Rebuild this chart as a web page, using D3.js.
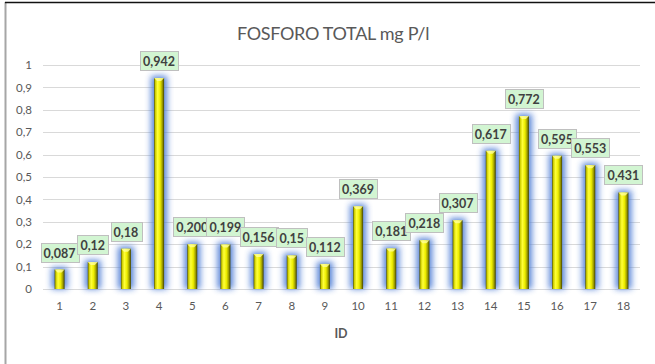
<!DOCTYPE html>
<html>
<head>
<meta charset="utf-8">
<script src="https://cdn.jsdelivr.net/npm/d3@7"></script>
<style>
  html, body { margin: 0; padding: 0; background: #fff; }
  svg { display: block; }
</style>
</head>
<body>
<svg id="chart" width="655" height="364"></svg>
<script>
// Total phosphorus per sampling point (mg P/l)
const ids = ["1","2","3","4","5","6","7","8","9","10","11","12","13","14","15","16","17","18"];
const values = [0.087, 0.12, 0.18, 0.942, 0.200, 0.199, 0.156, 0.15, 0.112, 0.369, 0.181, 0.218, 0.307, 0.617, 0.772, 0.595, 0.553, 0.431];
const valueLabels = ["0,087","0,12","0,18","0,942","0,200","0,199","0,156","0,15","0,112","0,369","0,181","0,218","0,307","0,617","0,772","0,595","0,553","0,431"];
const yTicks = [0, 0.1, 0.2, 0.3, 0.4, 0.5, 0.6, 0.7, 0.8, 0.9, 1];
const chartTitle = "FOSFORO TOTAL mg P/l";
const xTitle = "ID";

const W = 655, H = 364;
const margin = { top: 65, right: 15, bottom: 75, left: 43 };
const FONT = "Lato, 'Open Sans', sans-serif";

const svg = d3.select("#chart");
const defs = svg.append("defs");

// horizontal shading that gives each bar a rounded, bevelled look
const grad = defs.append("linearGradient").attr("id", "barGrad")
  .attr("x1", "0%").attr("x2", "100%").attr("y1", "0%").attr("y2", "0%");
[["0%", "#4f4f00"], ["14%", "#d0d000"], ["35%", "#ffff3a"], ["60%", "#eeee00"],
 ["82%", "#a0a000"], ["100%", "#404000"]].forEach(([o, c]) =>
  grad.append("stop").attr("offset", o).attr("stop-color", c));

// soft blue halo around the bars
const glow = defs.append("filter").attr("id", "glow")
  .attr("x", "-200%").attr("y", "-50%").attr("width", "500%").attr("height", "200%");
glow.append("feGaussianBlur").attr("stdDeviation", 3);

// chart frame
svg.append("line").attr("x1", 5.5).attr("x2", 5.5).attr("y1", 2).attr("y2", H)
  .attr("stroke", "#a6a6a6").attr("stroke-width", 2);
svg.append("line").attr("x1", 5).attr("x2", W).attr("y1", 2.5).attr("y2", 2.5)
  .attr("stroke", "#111").attr("stroke-width", 1.5);

const x = d3.scaleBand().domain(ids)
  .range([margin.left, W - margin.right]).paddingInner(0).paddingOuter(0);
const y = d3.scaleLinear().domain([0, 1]).range([H - margin.bottom, margin.top]);

// title
svg.append("text").attr("x", 333).attr("y", 40)
  .attr("text-anchor", "middle").attr("font-family", FONT)
  .attr("font-size", 18).attr("fill", "#595959").attr("letter-spacing", -0.3)
  .text(chartTitle);

// gridlines
svg.append("g").selectAll("line").data(yTicks).join("line")
  .attr("x1", margin.left).attr("x2", W - margin.right)
  .attr("y1", d => Math.round(y(d)) + 0.5).attr("y2", d => Math.round(y(d)) + 0.5)
  .attr("stroke", "#d9d9d9").attr("stroke-width", 1);

// y axis labels
const yAxis = d3.axisLeft(y).tickValues(yTicks).tickSize(0).tickPadding(0)
  .tickFormat(d => d3.format(".1~f")(d).replace(".", ","));
const gy = svg.append("g").attr("transform", `translate(${margin.left - 11},0)`).call(yAxis);
gy.select(".domain").remove();
gy.selectAll("text").attr("font-family", FONT).attr("font-size", 11.5).attr("fill", "#595959");

// x axis labels
const xAxis = d3.axisBottom(x).tickSize(0).tickPadding(0);
const gx = svg.append("g").attr("transform", `translate(0,${H - margin.bottom + 13})`).call(xAxis);
gx.select(".domain").remove();
gx.selectAll("text").attr("font-family", FONT).attr("font-size", 11.5).attr("fill", "#595959");

// x axis title
svg.append("text").attr("x", 341).attr("y", 338).attr("text-anchor", "middle")
  .attr("font-family", FONT).attr("font-weight", "bold").attr("font-size", 12.5)
  .attr("fill", "#595959").text(xTitle);

const barW = 10;
const data = ids.map((id, i) => ({ id, v: values[i], label: valueLabels[i] }));
const cx = d => x(d.id) + x.bandwidth() / 2;

// halos
svg.append("g").selectAll("rect").data(data).join("rect")
  .attr("x", d => cx(d) - barW / 2 - 3)
  .attr("y", d => y(d.v) - 2)
  .attr("width", barW + 6)
  .attr("height", d => y(0) - y(d.v) + 2)
  .attr("fill", "#4f7ed6").attr("opacity", 0.95)
  .attr("filter", "url(#glow)");

// bars
const bars = svg.append("g");
bars.selectAll("rect").data(data).join("rect")
  .attr("x", d => cx(d) - barW / 2)
  .attr("y", d => y(d.v))
  .attr("width", barW)
  .attr("height", d => y(0) - y(d.v))
  .attr("fill", "url(#barGrad)");
// bevelled top edge
bars.selectAll("path").data(data).join("path")
  .attr("d", d => {
    const l = cx(d) - barW / 2, t = y(d.v);
    return `M${l},${t}L${l + barW},${t}L${l + barW - 3},${t + 3}L${l + 3},${t + 3}Z`;
  })
  .attr("fill", "#ffff99").attr("opacity", 0.8);

// value labels in boxes
const lbl = svg.append("g").selectAll("g").data(data).join("g");
lbl.each(function (d) {
  const g = d3.select(this);
  const t = g.append("text").attr("x", cx(d)).attr("y", y(d.v) - 12)
    .attr("text-anchor", "middle").attr("font-family", FONT)
    .attr("font-weight", "bold").attr("font-size", 12.5).attr("fill", "#404040")
    .text(d.label);
  const bb = t.node().getBBox();
  g.insert("rect", "text")
    .attr("x", Math.round(bb.x - 3) + 0.5).attr("y", Math.round(y(d.v) - 27) + 0.5)
    .attr("width", Math.round(bb.width + 6)).attr("height", 19)
    .attr("fill", "#d2f5d2").attr("stroke", "#bfbfbf").attr("stroke-width", 1);
});
</script>
</body>
</html>
